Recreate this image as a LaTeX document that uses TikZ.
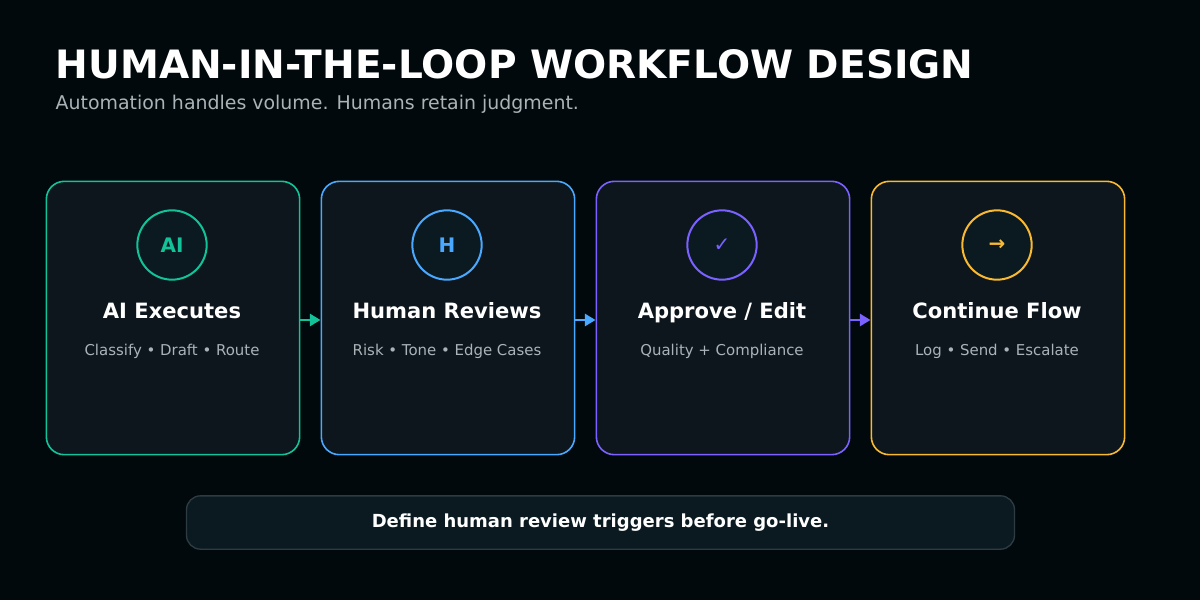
\documentclass[tikz,border=0pt]{standalone}
\usepackage{fontspec}
\setmainfont{DejaVu Sans}
\usetikzlibrary{arrows.meta}
\definecolor{bg}{HTML}{02090C}
\definecolor{card}{HTML}{0D161C}
\definecolor{disc}{HTML}{0A1A20}
\definecolor{cgreen}{HTML}{12C39A}
\definecolor{cblue}{HTML}{4AA8FF}
\definecolor{cpurple}{HTML}{7B61FF}
\definecolor{cyellow}{HTML}{F9B930}
\definecolor{soft}{HTML}{AAB3B8}
\definecolor{note}{HTML}{0A1A20}
\definecolor{noteline}{HTML}{2C3C42}
\begin{document}
\begin{tikzpicture}[x=0.75pt, y=-0.75pt,
    card/.style = {draw, line width=1.2pt, fill=card, rounded corners=13.5pt, minimum width=190pt, minimum height=205pt},
    badge/.style = {draw, line width=1.5pt, fill=disc, circle, minimum size=52pt, font=\bfseries\fontsize{15}{18}\selectfont},
    head/.style = {text=white, anchor=base, font=\bfseries\fontsize{15.8}{19}\selectfont},
    sub/.style = {text=soft, anchor=base, font=\fontsize{11.2}{13}\selectfont},
    link/.style = {line width=2.2pt, -{Triangle[length=8pt, width=9pt]}}]
    \fill[bg] (0,0) rectangle (1200,600);
    \node[anchor=west, text=white, font=\bfseries\fontsize{29.3}{34}\selectfont] (title) at (51,64) {HUMAN-IN-THE-LOOP WORKFLOW DESIGN};
    \node[anchor=west, text=soft, font=\fontsize{14.2}{17}\selectfont] (subtitle) at (51,104) {Automation handles volume. Humans retain judgment.};
    % the four steps
    \foreach \i/\x/\c/\s/\h/\t in {1/173/cgreen/AI/AI Executes/Classify • Draft • Route,
                                  2/448/cblue/H/Human Reviews/Risk • Tone • Edge Cases,
                                  3/723/cpurple/{\mdseries ✓}/{Approve / Edit}/Quality + Compliance,
                                  4/998/cyellow/→/Continue Flow/Log • Send • Escalate} {
        \node[card, draw=\c] (step\i) at (\x,318) {};
        \node[badge, draw=\c, text=\c] (icon\i) at (\x-1,245) {\s};
        \node[head] (head\i) at (\x-1,318) {\h};
        \node[sub] (sub\i) at (\x-1,355) {\t};
    }
    \coordinate (mid) at (0,320);
    \draw[link, cgreen] (step1.east |- mid) -- (step2.west |- mid);
    \draw[link, cblue] (step2.east |- mid) -- (step3.west |- mid);
    \draw[link, cpurple] (step3.east |- mid) -- (step4.west |- mid);
    % note
    \node[draw=noteline, line width=1pt, fill=note, rounded corners=10.5pt, minimum width=621pt, minimum height=40pt, text=white, font=\bfseries\fontsize{13.5}{16}\selectfont] (note) at (600.5,522.5) {Define human review triggers before go-live.};
\end{tikzpicture}
\end{document}
